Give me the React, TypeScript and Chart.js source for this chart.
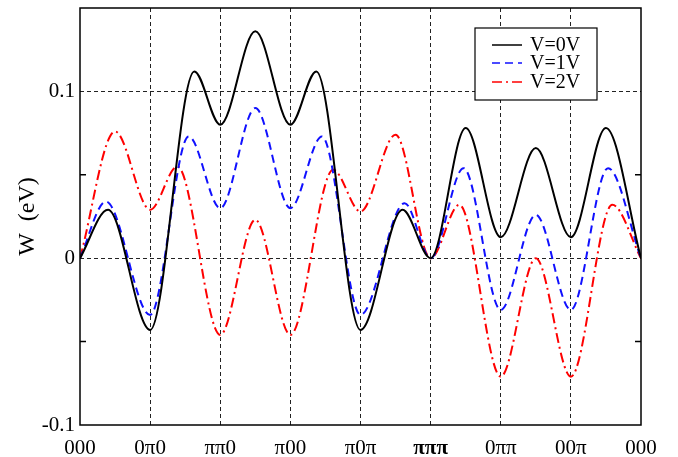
import React, { useEffect, useRef } from 'react';
import { Chart, registerables } from 'chart.js';

Chart.register(...registerables);

const X_LABELS = ['000', '0π0', 'ππ0', 'π00', 'π0π', 'πππ', '0ππ', '00π', '000'];
const Y_MAJOR = [-0.1, 0, 0.1];
const Y_MINOR = [-0.05, 0.05];
const Y_MIN = -0.1;
const Y_MAX = 0.15;

const SERIES_LABELS = ['V=0V', 'V=1V', 'V=2V'];

const V0_X = [0, 0.4, 1, 1.63, 2, 2.5, 3, 3.37, 4, 4.6, 5, 5.5, 6, 6.5, 7, 7.5, 8];
const V0_Y = [0, 0.029, -0.043, 0.112, 0.08, 0.136, 0.08, 0.112, -0.043, 0.029, 0, 0.078, 0.0126, 0.066, 0.0126, 0.078, 0];

const V1_X = [0, 0.37, 1, 1.55, 2, 2.5, 3, 3.45, 4, 4.63, 5, 5.47, 6, 6.5, 7, 7.53, 8];
const V1_Y = [0, 0.034, -0.034, 0.073, 0.03, 0.09, 0.03, 0.073, -0.034, 0.033, 0, 0.054, -0.031, 0.026, -0.031, 0.054, 0];

const V2_X = [0, 0.5, 1, 1.39, 2, 2.5, 3, 3.61, 4, 4.5, 5, 5.41, 6, 6.5, 7, 7.59, 8];
const V2_Y = [0, 0.076, 0.029, 0.055, -0.046, 0.023, -0.046, 0.053, 0.028, 0.074, 0, 0.032, -0.071, 0.0, -0.071, 0.032, 0];

const FONT = "'Liberation Serif', 'Times New Roman', serif";

const pts = (xs: number[], ys: number[]) => xs.map((x, i) => ({ x, y: ys[i] }));

const framePlugin = {
  id: 'frame',
  afterDatasetsDraw(chart: any) {
    const { ctx, chartArea: a, scales } = chart;
    const ys = scales.y;
    ctx.save();
    ctx.strokeStyle = '#000';
    ctx.lineWidth = 1.5;
    ctx.setLineDash([]);
    for (const v of Y_MINOR) {
      const py = ys.getPixelForValue(v);
      ctx.beginPath();
      ctx.moveTo(a.left, py);
      ctx.lineTo(a.left + 6, py);
      ctx.moveTo(a.right - 6, py);
      ctx.lineTo(a.right, py);
      ctx.stroke();
    }
    ctx.strokeRect(a.left, a.top, a.right - a.left, a.bottom - a.top);

    // legend
    const bx = a.right - 166;
    const by = a.top + 20;
    const bw = 122;
    const bh = 72;
    ctx.fillStyle = '#fff';
    ctx.fillRect(bx, by, bw, bh);
    ctx.lineWidth = 1.2;
    ctx.strokeStyle = '#000';
    ctx.strokeRect(bx, by, bw, bh);
    const rows = [17, 35, 54];
    chart.data.datasets.forEach((ds: any, i: number) => {
      const ry = by + rows[i];
      ctx.save();
      ctx.strokeStyle = ds.borderColor;
      ctx.lineWidth = 1.5;
      ctx.setLineDash(ds.borderDash || []);
      ctx.beginPath();
      ctx.moveTo(bx + 17, ry);
      ctx.lineTo(bx + 47, ry);
      ctx.stroke();
      ctx.restore();
      ctx.fillStyle = '#000';
      ctx.font = `20px ${FONT}`;
      ctx.textAlign = 'left';
      ctx.textBaseline = 'middle';
      ctx.fillText(ds.label, bx + 55, ry + 1);
    });
    ctx.restore();
  },
};

export default function App() {
  const ref = useRef<HTMLCanvasElement>(null);
  useEffect(() => {
    if (!ref.current) return;
    const chart = new Chart(ref.current, {
      type: 'line',
      data: {
        datasets: [
          {
            label: SERIES_LABELS[0],
            data: pts(V0_X, V0_Y),
            borderColor: '#000000',
            borderWidth: 2,
            borderDash: [],
            pointRadius: 0,
            cubicInterpolationMode: 'monotone',
            fill: false,
          },
          {
            label: SERIES_LABELS[1],
            data: pts(V1_X, V1_Y),
            borderColor: '#1010ff',
            borderWidth: 2,
            borderDash: [8, 5],
            pointRadius: 0,
            cubicInterpolationMode: 'monotone',
            fill: false,
          },
          {
            label: SERIES_LABELS[2],
            data: pts(V2_X, V2_Y),
            borderColor: '#ff0000',
            borderWidth: 2,
            borderDash: [10, 4, 2, 4],
            pointRadius: 0,
            cubicInterpolationMode: 'monotone',
            fill: false,
          },
        ],
      },
      options: {
        animation: false,
        responsive: false,
        layout: { padding: { top: 8, right: 37, left: 0, bottom: 0 } },
        plugins: { legend: { display: false }, tooltip: { enabled: false } },
        scales: {
          x: {
            type: 'linear',
            min: 0,
            max: X_LABELS.length - 1,
            afterBuildTicks: (s: any) => {
              s.ticks = X_LABELS.map((_, i) => ({ value: i }));
            },
            afterFit: (s: any) => {
              s.height = 32;
              s.paddingLeft = 0;
              s.paddingRight = 0;
            },
            border: { display: false, dash: [4, 3] },
            grid: {
              drawTicks: false,
              color: (c: any) =>
                c.tick && (c.tick.value === 0 || c.tick.value === X_LABELS.length - 1) ? 'rgba(0,0,0,0)' : '#222',
              lineWidth: 1,
            },
            ticks: {
              padding: 11,
              color: '#000',
              maxRotation: 0,
              autoSkip: false,
              font: (c: any) => ({
                family: FONT,
                size: 21,
                weight: X_LABELS[c.index] === 'πππ' ? 'bold' : 'normal',
              }),
              callback: (v: any) => X_LABELS[v] ?? '',
            },
          },
          y: {
            type: 'linear',
            min: Y_MIN,
            max: Y_MAX,
            afterBuildTicks: (s: any) => {
              s.ticks = Y_MAJOR.map((v) => ({ value: v }));
            },
            afterFit: (s: any) => {
              s.width = 80;
              s.paddingTop = 0;
              s.paddingBottom = 0;
            },
            border: { display: false, dash: [4, 3] },
            grid: {
              drawTicks: false,
              color: (c: any) => (c.tick && c.tick.value === Y_MIN ? 'rgba(0,0,0,0)' : '#222'),
              lineWidth: 1,
            },
            ticks: {
              padding: 5,
              color: '#000',
              font: { family: FONT, size: 21 },
              callback: (v: any) => String(Math.round(v * 10) / 10),
            },
            title: {
              display: true,
              text: 'W  (eV)',
              color: '#000',
              font: { family: FONT, size: 24 },
              padding: { top: 13, bottom: 0 },
            },
          },
        },
      },
      plugins: [framePlugin],
    } as any);
    return () => chart.destroy();
  }, []);
  return (
    <div style={{ position: 'absolute', left: 0, top: 0, width: 678, height: 457, background: '#fff' }}>
      <canvas ref={ref} width={678} height={457} />
    </div>
  );
}
